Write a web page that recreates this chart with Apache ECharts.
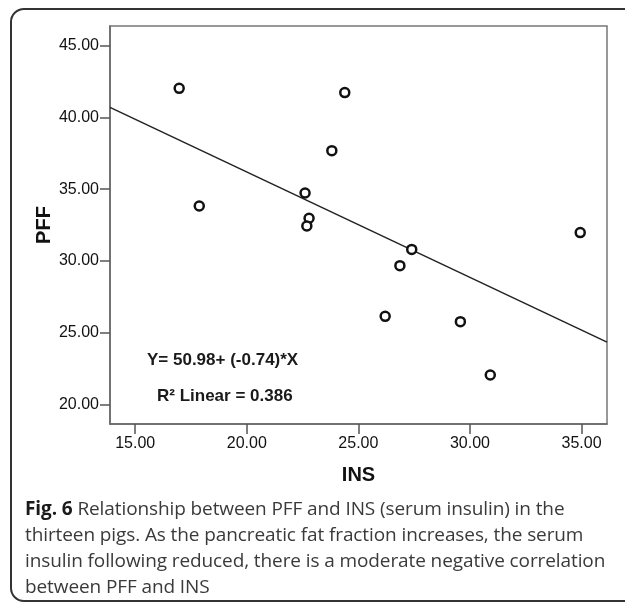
<!DOCTYPE html>
<html>
<head>
<meta charset="utf-8">
<script src="https://cdn.jsdelivr.net/npm/echarts@6/dist/echarts.min.js"></script>
<style>
    html, body { margin: 0; padding: 0; background: #fff; overflow: hidden; }
    #wrap { position: relative; width: 625px; height: 605px; overflow: hidden; }
    #frame {
        position: absolute; left: 10px; top: 8px; width: 660px; height: 594px;
        border: 2px solid #333; border-radius: 14px; box-sizing: border-box;
    }
    #chart { position: absolute; left: 0; top: 0; width: 625px; height: 605px; }
    #caption {
        position: absolute; left: 25px; top: 495px; width: 600px;
        font-family: 'Open Sans', sans-serif; font-size: 19px; line-height: 26px;
        letter-spacing: -0.1px; color: #3a3a3a; white-space: nowrap;
    }
    #caption b { color: #1a1a1a; }
</style>
</head>
<body>
<div id="wrap">
    <div id="frame"></div>
    <div id="chart"></div>
    <div id="caption"><b>Fig. 6</b> Relationship between PFF and INS (serum insulin) in the<br>thirteen pigs. As the pancreatic fat fraction increases, the serum<br>insulin following reduced, there is a moderate negative correlation<br>between PFF and INS</div>
</div>
<script>
// INS (x) and PFF (y) for the thirteen pigs
const insValues = [16.97, 17.87, 22.61, 22.79, 22.69, 23.81, 24.39, 26.20, 26.86, 27.39, 29.57, 30.91, 34.94];
const pffValues = [42.03, 33.83, 34.74, 32.98, 32.44, 37.69, 41.73, 26.15, 29.68, 30.81, 25.78, 22.06, 31.98];

// fit line end points at the plot edges
const fitLine = [[13.87, 40.70], [36.14, 24.35]];

const xTicks = [15, 20, 25, 30, 35];
const yTicks = [20, 25, 30, 35, 40, 45];
const xRange = [13.87, 36.14];
const yRange = [18.65, 46.37];

const fitText = 'Y= 50.98+ (-0.74)*X';
const r2Text = 'R\u00b2 Linear = 0.386';

const points = insValues.map((x, i) => [x, pffValues[i]]);

const chart = echarts.init(document.getElementById('chart'));

const axisFont = {
    fontFamily: 'Liberation Sans',
    fontSize: 16,
    color: '#111'
};

chart.setOption({
    animation: false,
    grid: {
        left: 110,
        top: 26,
        width: 497,
        height: 398,
        show: true,
        borderColor: '#777',
        borderWidth: 1.5
    },
    xAxis: {
        type: 'value',
        min: xRange[0],
        max: xRange[1],
        name: 'INS',
        nameLocation: 'middle',
        nameGap: 41,
        nameTextStyle: { fontFamily: 'Liberation Sans', fontSize: 20, fontWeight: 'bold', color: '#111' },
        axisLine: { show: true, lineStyle: { color: '#666', width: 1.5 } },
        axisTick: { show: true, inside: false, length: 10, customValues: xTicks, lineStyle: { color: '#555', width: 1.5 } },
        axisLabel: Object.assign({ margin: 12, customValues: xTicks, formatter: v => v.toFixed(2) }, axisFont),
        splitLine: { show: false }
    },
    yAxis: {
        type: 'value',
        min: yRange[0],
        max: yRange[1],
        name: 'PFF',
        nameLocation: 'middle',
        nameGap: 56,
        nameMoveOverlap: false,
        nameTextStyle: { fontFamily: 'Liberation Sans', fontSize: 20, fontWeight: 'bold', color: '#111' },
        axisLine: { show: true, lineStyle: { color: '#666', width: 1.5 } },
        axisTick: { show: true, inside: false, length: 10, customValues: yTicks, lineStyle: { color: '#555', width: 1.5 } },
        axisLabel: Object.assign({ margin: 11, customValues: yTicks, formatter: v => v.toFixed(2) }, axisFont),
        splitLine: { show: false }
    },
    graphic: [
        {
            type: 'text',
            left: 147,
            top: 352,
            style: { text: fitText, fontFamily: 'Liberation Sans', fontSize: 17, fontWeight: 'bold', fill: '#1a1a1a' }
        },
        {
            type: 'text',
            left: 157,
            top: 388,
            style: { text: r2Text, fontFamily: 'Liberation Sans', fontSize: 17, fontWeight: 'bold', fill: '#1a1a1a' }
        }
    ],
    series: [
        {
            name: 'Fit',
            type: 'line',
            data: fitLine,
            symbol: 'none',
            lineStyle: { color: '#222', width: 1.5 },
            z: 2
        },
        {
            name: 'PFF',
            type: 'scatter',
            data: points,
            symbol: 'circle',
            symbolSize: 9,
            itemStyle: { color: '#fff', borderColor: '#111', borderWidth: 2.5, opacity: 1 },
            z: 3
        }
    ]
});
</script>
</body>
</html>
